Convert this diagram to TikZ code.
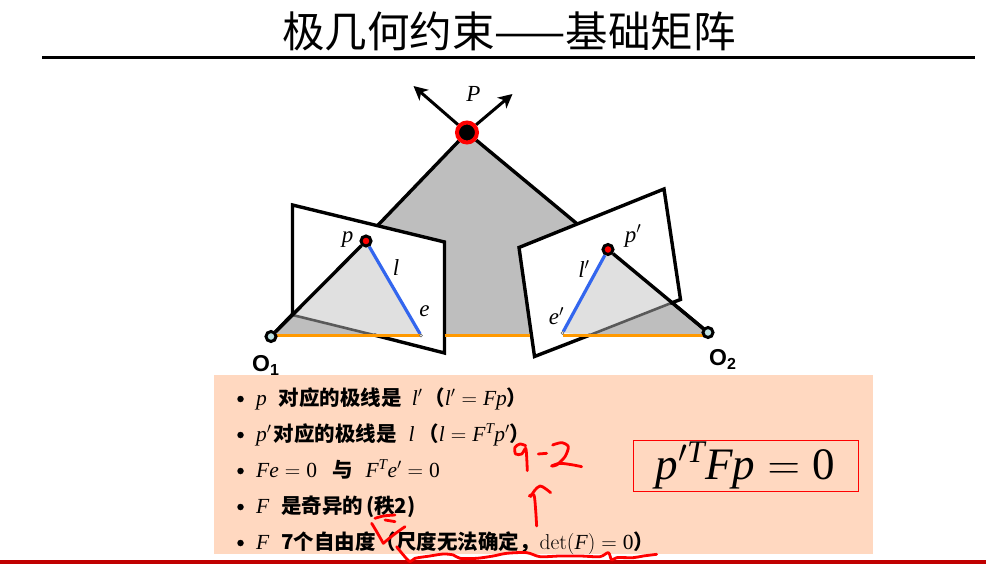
\documentclass[tikz,border=0pt]{standalone}
\usepackage{fix-cm}
\usepackage{mathspec}
\usepackage{xcolor}
\setmainfont{Noto Sans CJK SC}
\setmathfont(Digits,Latin){Liberation Serif}
\newfontfamily\latinfont{Liberation Sans}
\newfontfamily\rowfont[Scale=0.953]{Noto Sans CJK SC}
\definecolor{planegray}{RGB}{190,190,190}
\definecolor{lightplane}{RGB}{224,224,224}
\definecolor{peachbox}{RGB}{255,216,192}
\definecolor{barred}{RGB}{192,0,0}
\definecolor{baseorange}{RGB}{255,153,0}
\definecolor{lineblue}{RGB}{51,102,238}
\definecolor{centerblue}{RGB}{190,225,225}
\usetikzlibrary{arrows.meta, backgrounds}

\begin{document}
\begin{tikzpicture}[
                x=1pt, y=-1pt,
                dark/.style={line width=3.4pt, draw=black},
                sight/.style={line width=3pt, draw=black, -{Stealth[length=14pt, width=14pt, inset=4pt]}},
                edgeline/.style={line width=2.6pt, draw=black!65},
                epiline/.style={line width=3.2pt, draw=lineblue},
                baseedge/.style={line width=3pt, draw=baseorange},
                camcenter/.style={circle, draw=black, fill=centerblue, line width=3pt, minimum size=10pt, inner sep=0pt},
                imagept/.style={circle, draw=black, fill=red, line width=3pt, minimum size=10pt, inner sep=0pt},
                tinypt/.style={circle, draw=black!60, fill=white, line width=0.5pt, minimum size=3pt, inner sep=0pt},
                sym/.style={font=\fontsize{23}{26}\selectfont},
                camlabel/.style={font=\latinfont\bfseries\fontsize{23}{26}\selectfont, anchor=base west, inner sep=0pt},
                rowtext/.style={font=\rowfont\bfseries\fontsize{21.5}{24}\selectfont, anchor=base west, inner sep=0pt},
                dotmark/.style={circle, fill=black, minimum size=6.5pt, inner sep=0pt},
                ink/.style={draw=red, line width=2.8pt, line cap=round, line join=round}
            ]
                \useasboundingbox (0,0) rectangle (986,564);

                % Title
                \node[font=\fontsize{42.5}{48}\selectfont, inner sep=0pt] (title) at (509,31) {极几何约束——基础矩阵};
                \coordinate (ruleL) at (42,58);
                \coordinate (ruleR) at (975,58);
                \draw[line width=3pt] (ruleL) -- (ruleR);

                % Points
                \node[circle, draw=red, fill=black, line width=4pt, minimum size=20pt, inner sep=0pt] (P) at (467,132.5) {};
                \node[imagept] (p) at (366,241) {};
                \node[imagept] (pp) at (608,249.5) {};
                \node[camcenter] (O1) at (271,336.5) {};
                \node[camcenter] (O2) at (708,332.5) {};
                \node[tinypt] (e) at (421,335.5) {};
                \node[tinypt] (ep) at (562.5,333) {};
                \coordinate (Pa) at (413.5,86);
                \coordinate (Pb) at (512.5,94);

                % Left plane
                \coordinate (LA) at (292.5,205);
                \coordinate (LB) at (444.5,242);
                \coordinate (LC) at (444.5,353);
                \coordinate (LD) at (292.5,315);
                \coordinate (LX) at (374,335);

                % Right plane
                \coordinate (RA) at (519,247.5);
                \coordinate (RB) at (664,189);
                \coordinate (RC) at (680.5,299.5);
                \coordinate (RD) at (534.5,356.5);
                \coordinate (RY) at (590,335);
                \coordinate (RZ) at (670,303.5);

                % Baseline
                \coordinate (b1) at (271,335);
                \coordinate (b2) at (421,335);
                \coordinate (b3) at (444.5,335);
                \coordinate (b4) at (530,335);
                \coordinate (b5) at (563,335);
                \coordinate (b6) at (708,335);

                \begin{pgfonlayer}{background}
                    \fill[planegray] (P.center) -- (b1) -- (b6) -- cycle;
                    \draw[dark] (P) -- (O1.center);
                    \draw[dark] (P) -- (O2.center);
                    \draw[sight] (P) -- (Pa);
                    \draw[sight] (P) -- (Pb);

                    % Planes
                    \fill[white] (LA) -- (LB) -- (LC) -- (LD) -- cycle;
                    \fill[white] (RA) -- (RB) -- (RC) -- (RD) -- cycle;
                    \fill[lightplane] (LD) -- (p.center) -- (e.center) -- (LX) -- cycle;
                    \fill[lightplane] (pp.center) -- (ep.center) -- (RY) -- (RZ) -- cycle;
                    \fill[planegray] (b1) -- (LD) -- (LX) -- cycle;
                    \fill[planegray] (RY) -- (RZ) -- (b6) -- cycle;

                    \draw[dark, line join=miter] (LD) -- (LA) -- (LB) -- (LC) -- (LX);
                    \draw[edgeline] (LD) -- (LX);
                    \draw[dark, line join=miter] (RZ) -- (RC) -- (RB) -- (RA) -- (RD) -- (RY);
                    \draw[edgeline] (RY) -- (RZ);

                    % Sight lines, epipolar lines
                    \draw[dark] (O1) -- (p);
                    \draw[dark] (pp) -- (O2);
                    \draw[epiline] (p) -- (e);
                    \draw[epiline] (pp) -- (ep);
                    \draw[baseedge] (b1) -- (b2);
                    \draw[baseedge] (b3) -- (b4);
                    \draw[baseedge] (b5) -- (b6);
                \end{pgfonlayer}

                % Labels
                \node[sym] (Plabel) at (473.5,94) {$P$};
                \node[sym] (plabel) at (347.5,240) {$p$};
                \node[sym] (llabel) at (396,268) {$l$};
                \node[sym] (elabel) at (424.5,311) {$e$};
                \node[sym] (pplabel) at (633,236) {$p'$};
                \node[sym] (lplabel) at (584,269) {$l'$};
                \node[sym] (eplabel) at (556.5,316) {$e'$};
                \node[camlabel] (O1label) at (252,371) {O\raisebox{-4pt}{\fontsize{16}{16}\selectfont 1}};
                \node[camlabel] (O2label) at (709,365) {O\raisebox{-4pt}{\fontsize{16}{16}\selectfont 2}};

                % Notes
                \fill[peachbox] (214,375) rectangle (873,554);
                \foreach \y/\n in {399/d1, 435/d2, 471/d3, 507/d4, 543/d5} {
                    \node[dotmark] (\n) at (240.5,\y) {};
                }
                \node[rowtext] (row1) at (256,405) {$p$\hspace{12pt}对应的极线是\hspace{10pt}$l'$\hspace{2pt}（$l'=Fp$）};
                \node[rowtext] (row2) at (256,441) {$p'$\hspace{2pt}对应的极线是\hspace{12pt}$l$\hspace{4pt}（$l=F^{T}p'$）};
                \node[rowtext] (row3) at (256,477) {$Fe=0$\hspace{15pt}与\hspace{13pt}$F^{T}e'=0$};
                \node[rowtext] (row4) at (256,513) {$F$\hspace{12pt}是奇异的\hspace{3pt}(秩2)};
                \node[rowtext] (row5) at (256,549) {$F$\hspace{12pt}7个自由度（尺度无法确定，$\det(F)=0$）};

                % Formula
                \node[draw=red, fill=peachbox, line width=0.8pt, minimum width=225pt, minimum height=51pt, inner sep=0pt,
                      font=\fontsize{45}{50}\selectfont] (formula) at (745.5,465.5) {$p'^{T}Fp=0$};

                % Footer
                \fill[barred] (0,560) rectangle (986,564);

                % Handwriting
                \begin{scope}[shift={(360,430)}, x=0.3333pt, y=-0.3333pt]
                    \draw[ink] plot[smooth] coordinates {(497,47) (480,42) (465,52) (467,72) (485,72) (497,55) (500,80) (502,122)};
                    \draw[ink] (535,72) -- (560,70);
                    \draw[ink] plot[smooth] coordinates {(578,45) (605,38) (625,50) (615,80) (590,105) (575,108)};
                    \draw[ink] plot[smooth] coordinates {(575,108) (600,100) (640,105) (665,110)};
                    \draw[ink] plot[smooth] coordinates {(508,198) (522,195) (527,240) (530,288)};
                    \draw[ink] plot[smooth] coordinates {(512,200) (525,180) (540,168) (555,175) (572,188)};
                    \draw[ink] plot[smooth] coordinates {(45,265) (70,258) (105,255)};
                    \draw[ink] plot[smooth] coordinates {(35,280) (50,305) (70,340)};
                    \draw[ink] plot[smooth] coordinates {(70,340) (100,315) (135,290)};
                    \draw[ink] (75,270) -- (105,275);
                    \draw[ink] plot[smooth] coordinates {(110,350) (130,375) (150,395) (165,385) (210,378) (250,372) (280,375) (300,385) (350,385) (400,378) (440,370) (500,368) (540,380) (600,378) (660,378) (720,380) (745,368) (755,390) (770,383) (820,383) (850,378) (890,373)};
                \end{scope}
            \end{tikzpicture}
\end{document}
